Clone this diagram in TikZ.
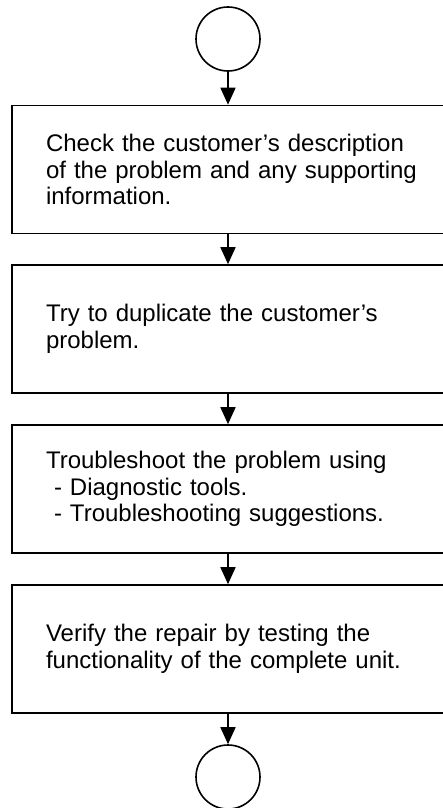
\documentclass[tikz,border=0pt]{standalone}
\usepackage{fontspec}
\setmainfont{Liberation Sans}
\usetikzlibrary{arrows.meta}
\definecolor{Ink}{HTML}{000000}
\tikzset{
  every node/.style={text=Ink},
  flow/.style={-{Triangle[length=17pt,width=15pt]}, draw=Ink, line width=1.6pt},
  terminal/.style={circle, draw=Ink, line width=1.6pt, minimum size=64pt, inner sep=0pt},
  stepbox/.style={rectangle, draw=Ink, line width=1.6pt, minimum width=432pt,
    minimum height=128pt, inner xsep=34pt, text width=364pt, align=left,
    font=\fontsize{24}{26.5}\selectfont,
    execute at begin node={\hfuzz=40pt\hyphenpenalty=10000}},
}

\begin{document}
\begin{tikzpicture}[x=1pt,y=-1pt]
  \useasboundingbox (0,0) rectangle (443,808);

  % Start and end markers.
  \node[terminal] (start) at (228,39) {};
  \node[terminal] (finish) at (228,777) {};

  % The four repair steps.
  \node[stepbox] (check) at (228,169.5)
    {Check the customer’s description\\
     \mbox{of the problem and any supporting}\\
     information.};
  \node[stepbox] (duplicate) at (228,329)
    {Try to duplicate the customer’s\\
     problem.};
  \node[stepbox] (troubleshoot) at (228,489)
    {Troubleshoot the problem using\\
     \hspace*{8pt}-\hspace{8pt}Diagnostic tools.\\
     \hspace*{8pt}-\hspace{8pt}Troubleshooting suggestions.};
  \node[stepbox] (verify) at (228,649)
    {Verify the repair by testing the\\
     functionality of the complete unit.};

  \draw[flow] (start) -- (check);
  \draw[flow] (check) -- (duplicate);
  \draw[flow] (duplicate) -- (troubleshoot);
  \draw[flow] (troubleshoot) -- (verify);
  \draw[flow] (verify) -- (finish);
\end{tikzpicture}
\end{document}
